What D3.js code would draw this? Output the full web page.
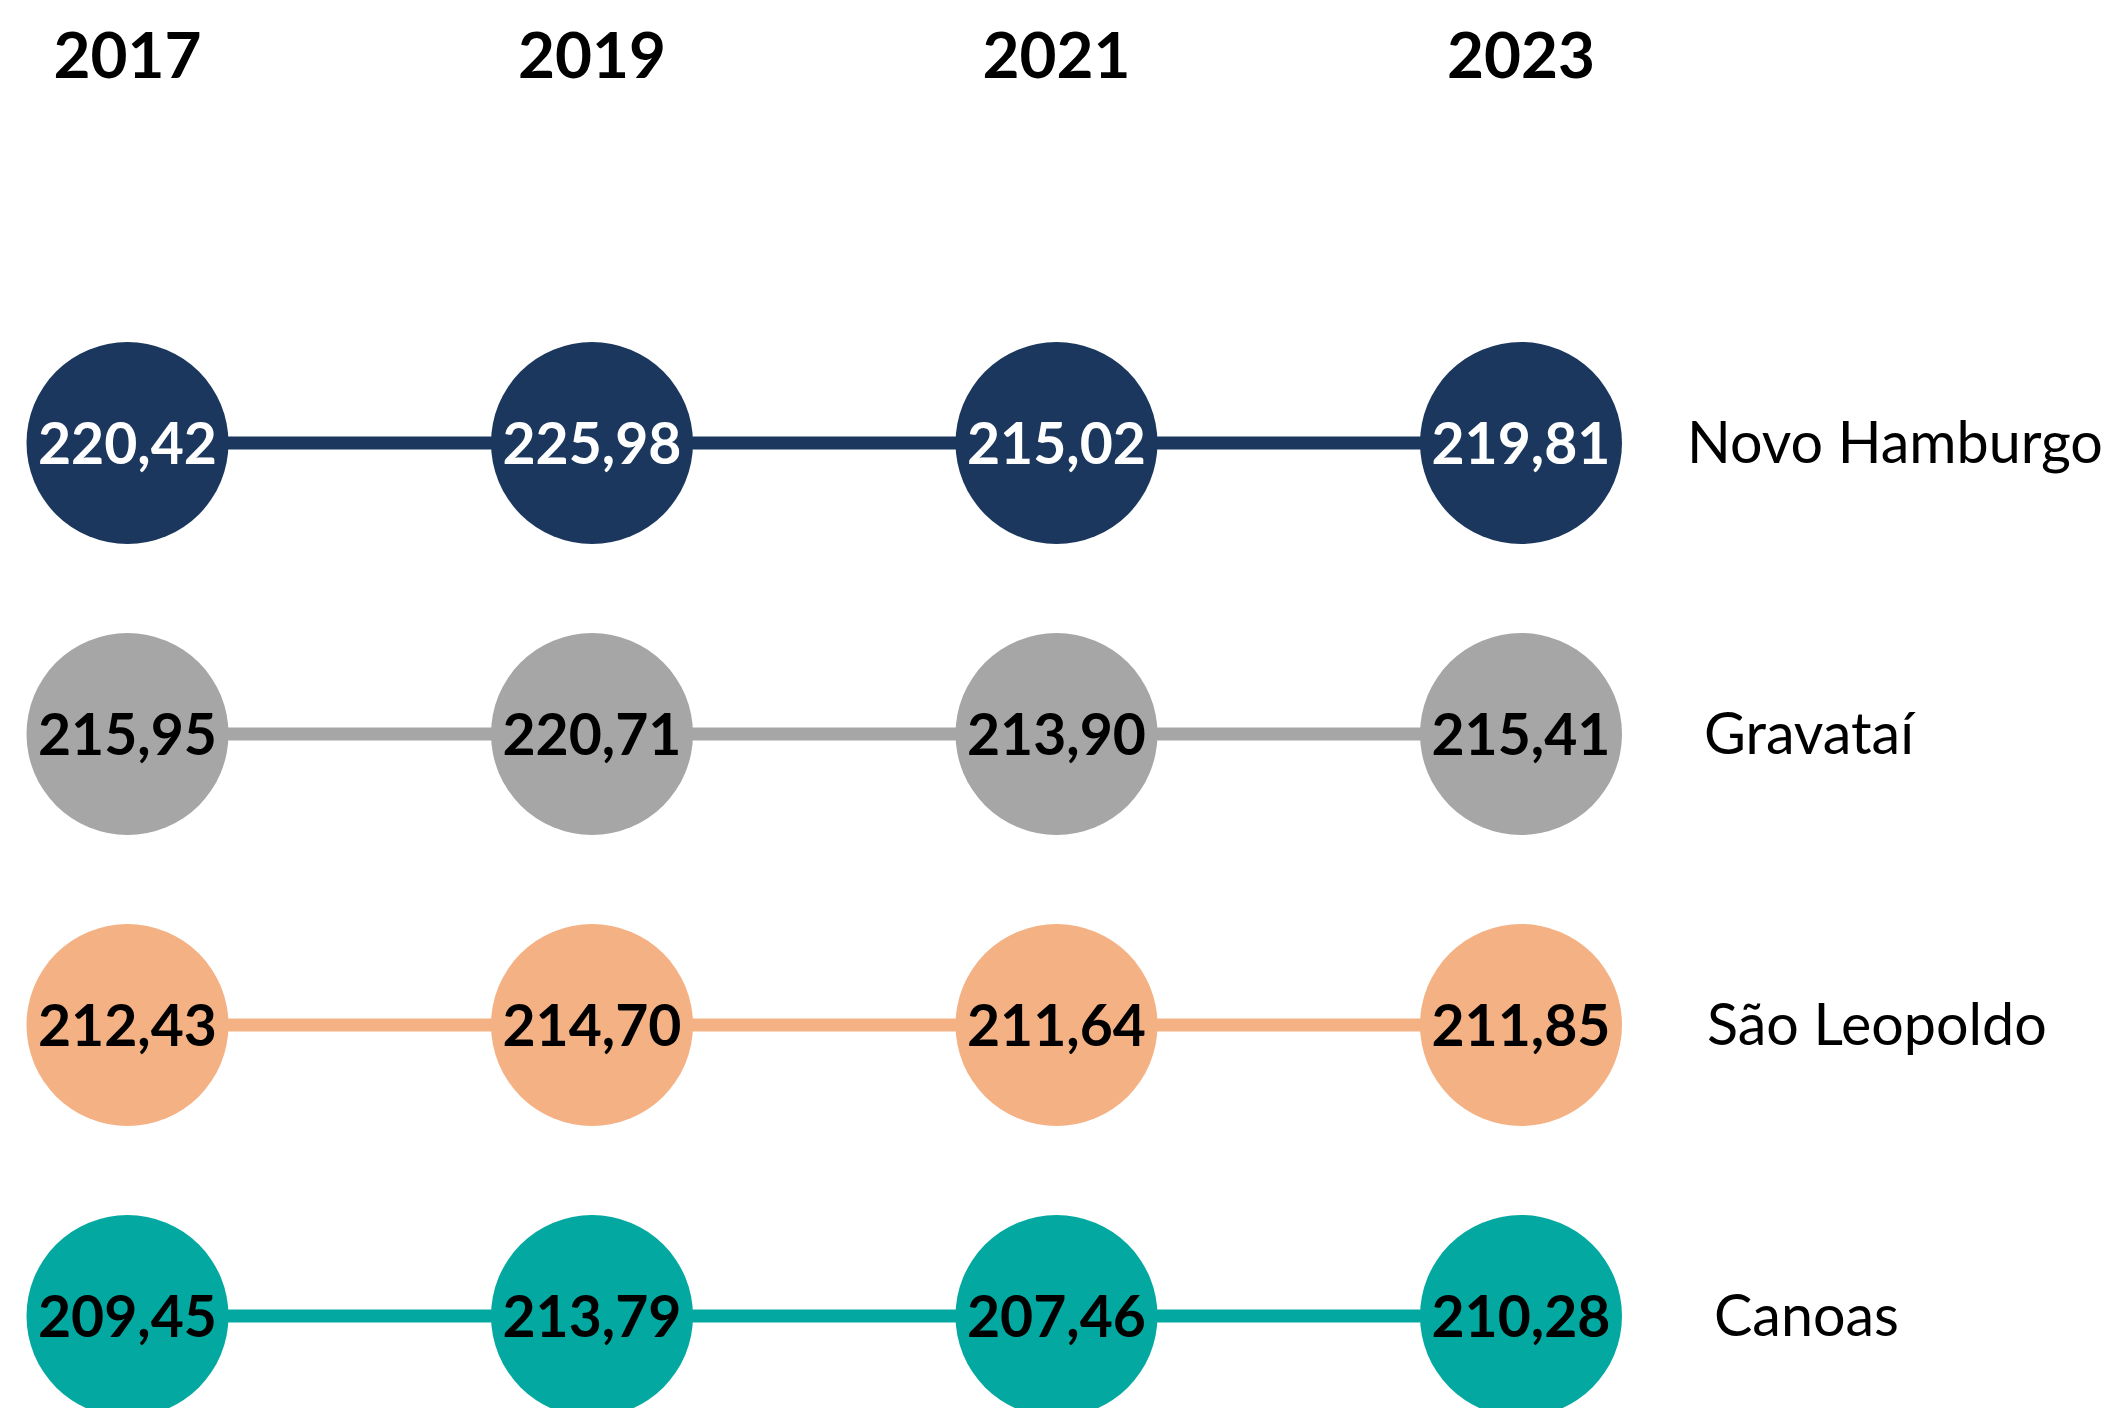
<!DOCTYPE html>
<html>
<head>
<meta charset="utf-8">
<script src="https://cdn.jsdelivr.net/npm/d3@7"></script>
<style>
  html, body { margin: 0; padding: 0; background: #ffffff; }
  svg { display: block; }
</style>
</head>
<body>
<script>
// ---------- data ----------
const years = ["2017", "2019", "2021", "2023"];
const cities = ["Novo Hamburgo", "Gravataí", "São Leopoldo", "Canoas"];
const novoHamburgo = [220.42, 225.98, 215.02, 219.81];
const gravatai = [215.95, 220.71, 213.90, 215.41];
const saoLeopoldo = [212.43, 214.70, 211.64, 211.85];
const canoas = [209.45, 213.79, 207.46, 210.28];
const seriesValues = [novoHamburgo, gravatai, saoLeopoldo, canoas];
const seriesColors = ["#1B375E", "#A6A6A6", "#F4B184", "#03A9A0"];
const seriesTextColors = ["#ffffff", "#000000", "#000000", "#000000"];

// ---------- layout ----------
const W = 2116, H = 1408;
const R = 101;
const labelLeft = 1687;
const labelShift = [0, 17, 20, 27];
const FONT = "Lato, 'Open Sans', sans-serif";

const svg = d3.select("body").append("svg").attr("width", W).attr("height", H);

const x = d3.scalePoint().domain(years).range([127.5, 1521]);
const y = d3.scalePoint().domain(cities).range([443, 1316]);

const locale = d3.formatLocale({decimal: ",", thousands: ".", grouping: [3], currency: ["R$", ""]});
const fmt = locale.format(".2f");

// helper: font size so that text reaches a target width
function fitSize(text, weight, target) {
  const t = svg.append("text").attr("font-family", FONT).attr("font-weight", weight)
    .attr("font-size", 100).text(text);
  const w = t.node().getComputedTextLength();
  t.remove();
  return 100 * target / w;
}

const yearSize = fitSize("2017", 700, 148);
const valueSize = fitSize("220,42", 700, 179);
const labelSize = fitSize("Novo Hamburgo", 400, 416);

// year headers
svg.append("g").selectAll("text").data(years).join("text")
  .attr("x", d => x(d))
  .attr("y", 78)
  .attr("text-anchor", "middle")
  .attr("font-family", FONT)
  .attr("font-weight", 700)
  .attr("font-size", yearSize)
  .attr("fill", "#000")
  .text(d => d);

const rows = cities.map((c, i) => ({
  city: c,
  color: seriesColors[i],
  textColor: seriesTextColors[i],
  shift: labelShift[i],
  points: years.map((yr, j) => ({year: yr, value: seriesValues[i][j]}))
}));

const g = svg.append("g").selectAll("g").data(rows).join("g");

// connecting line
g.append("line")
  .attr("x1", x(years[0]))
  .attr("x2", x(years[years.length - 1]))
  .attr("y1", d => y(d.city))
  .attr("y2", d => y(d.city))
  .attr("stroke", d => d.color)
  .attr("stroke-width", 13);

// circles
g.selectAll("circle").data(d => d.points.map(p => ({...p, row: d}))).join("circle")
  .attr("cx", d => x(d.year))
  .attr("cy", d => y(d.row.city))
  .attr("r", R)
  .attr("fill", d => d.row.color);

// value labels
g.selectAll("text.val").data(d => d.points.map(p => ({...p, row: d}))).join("text")
  .attr("class", "val")
  .attr("x", d => x(d.year))
  .attr("y", d => y(d.row.city) + valueSize * 0.36)
  .attr("text-anchor", "middle")
  .attr("font-family", FONT)
  .attr("font-weight", 700)
  .attr("font-size", valueSize)
  .attr("fill", d => d.row.textColor)
  .text(d => fmt(d.value));

// series labels
g.append("text")
  .attr("x", d => labelLeft + d.shift)
  .attr("y", d => y(d.city) + labelSize * 0.34)
  .attr("font-family", FONT)
  .attr("font-weight", 400)
  .attr("font-size", labelSize)
  .attr("fill", "#000")
  .text(d => d.city);
</script>
</body>
</html>
